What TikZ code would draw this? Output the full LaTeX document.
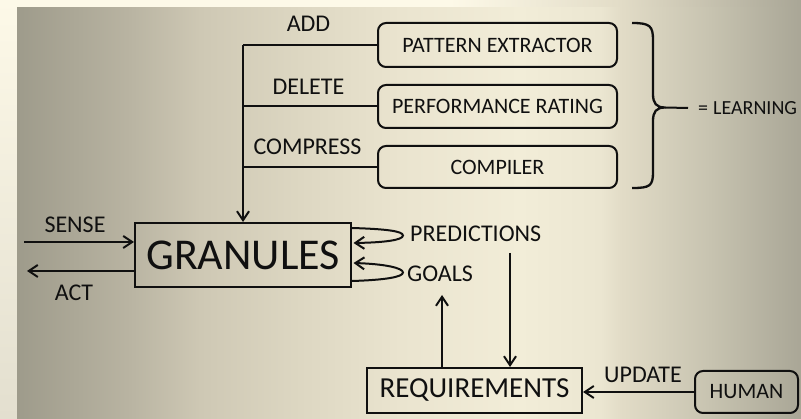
\documentclass[tikz,border=0pt]{standalone}
\usepackage{fontspec}
\setmainfont{Carlito}
\usetikzlibrary{arrows.meta,calc}

\definecolor{ink}{HTML}{101010}
\definecolor{paper}{HTML}{FDF9E8}
\definecolor{paperlow}{HTML}{E3DFCF}
\definecolor{bgA}{HTML}{9E9B8B}
\definecolor{bgB}{HTML}{B9B4A2}
\definecolor{bgC}{HTML}{CEC8B4}
\definecolor{bgD}{HTML}{DDD7C2}
\definecolor{bgE}{HTML}{EAE4CF}
\definecolor{bgF}{HTML}{F2EDD8}
\definecolor{bgG}{HTML}{EBE6D1}
\definecolor{bgH}{HTML}{E2DCC7}
\definecolor{bgI}{HTML}{C7C3B0}
\definecolor{bgJ}{HTML}{A9A696}

\tikzset{
  lbl/.style={font=\fontsize{24}{28}\selectfont, text=ink, inner sep=0pt},
  tag/.style={draw=ink, line width=2pt, rounded corners=8pt, inner sep=0pt,
              font=\fontsize{22}{26}\selectfont, text=ink},
  blk/.style={draw=ink, line width=2pt, inner sep=0pt, text=ink},
  wire/.style={draw=ink, line width=2pt},
  arr/.style={wire, -{Straight Barb[length=9pt,width=12pt]}},
}

\begin{document}
\begin{tikzpicture}[x=1pt,y=-1pt]
\useasboundingbox (0,0) rectangle (801,419);

% page margins
\shade[top color=paper, bottom color=paperlow] (0,0) rectangle (17.5,419);
\foreach \xa/\ca/\xb/\cb in {17/paper/450/paper, 450/paper/620/bgH, 620/bgH/801/bgJ}
  \shade[left color=\ca, right color=\cb] (\xa,0) rectangle (\xb+0.6,8.5);

% panel background
\foreach \xa/\ca/\xb/\cb in {17/bgA/130/bgB, 130/bgB/200/bgC, 200/bgC/300/bgD,
    300/bgD/400/bgE, 400/bgE/520/bgF, 520/bgF/600/bgG, 600/bgG/620/bgH,
    620/bgH/710/bgI, 710/bgI/801/bgJ}
  \shade[left color=\ca, right color=\cb] (\xa,8) rectangle (\xb+0.6,419);

% main blocks
\node[blk, minimum width=216pt, minimum height=64pt,
      font=\fontsize{44}{50}\selectfont] (gran) at (243,255) {GRANULES};
\node[blk, minimum width=215pt, minimum height=45pt,
      font=\fontsize{29}{34}\selectfont] (req) at (474.5,390.5) {REQUIREMENTS};
\node[tag, minimum width=103pt, minimum height=42pt] (human) at (746.5,392) {HUMAN};

% learning components
\node[tag, minimum width=239pt, minimum height=44pt] (pat) at (497.5,45) {PATTERN EXTRACTOR};
\node[tag, minimum width=239pt, minimum height=43pt] (perf) at (497.5,106.5) {PERFORMANCE RATING};
\node[tag, minimum width=239pt, minimum height=42pt] (comp) at (497.5,167) {COMPILER};

% bus into the granules
\coordinate (bus) at (gran.north |- pat.west);
\draw[wire] (pat.west) -- (bus);
\draw[wire] (perf.west) -- (perf.west -| bus);
\draw[wire] (comp.west) -- (comp.west -| bus);
\draw[arr] (bus) -- (gran.north);

\node[lbl, anchor=base] (add) at (308.5,32) {ADD};
\node[lbl, anchor=base] (del) at (308.5,95) {DELETE};
\node[lbl, anchor=base] (cmp) at (307.5,155) {COMPRESS};

% brace
\coordinate (bt) at (632,23);
\coordinate (bb) at (632,188);
\coordinate (tip) at (665,107.5);
\node[anchor=west, font=\fontsize{20}{24}\selectfont, text=ink, inner sep=0pt]
  (learn) at (698,108) {=\hspace{5pt}LEARNING};
\draw[wire, line width=2.3pt, line join=round]
  (bt) .. controls (650,23) and (653,26) .. (653,40) -- (653,94)
  .. controls (653,103) and (656,107.5) .. (tip)
  .. controls (656,107.5) and (653,112) .. (653,121) -- (653,172)
  .. controls (653,186) and (650,188) .. (bb);
\draw[wire] (tip) -- ([xshift=-10pt]learn.west);

% sense / act
\coordinate (sin) at (24,242);
\coordinate (aout) at (27,271);
\draw[arr] (sin) -- (sin -| gran.west);
\draw[arr] (aout -| gran.west) -- (aout);
\node[lbl, anchor=base] (sense) at (75,233) {SENSE};
\node[lbl, anchor=base] (act) at (74,301) {ACT};

% self loops
\draw[arr] ($(gran.east)+(0,-27)$) .. controls (385,229) and (403,231) .. (403,235.5)
  .. controls (403,240) and (385,242.5) .. ($(gran.east)+(1.5,-12)$);
\draw[arr] ($(gran.east)+(0,26)$) .. controls (385,280) and (403,277) .. (403,272.5)
  .. controls (403,268) and (385,264) .. ($(gran.east)+(1.5,8)$);
\node[lbl, anchor=base west] (pred) at (410,242) {PREDICTIONS};
\node[lbl, anchor=base west] (goals) at (407,282) {GOALS};

% requirement feedback
\coordinate (pdown) at (510,253);
\draw[arr] (pdown) -- (pdown |- req.north);
\coordinate (gup) at (442,295);
\draw[arr] (gup |- req.north) -- (gup);

% human update
\draw[arr] (human.west) -- (human.west -| req.east);
\node[lbl, anchor=base] (upd) at (643,383) {UPDATE};
\end{tikzpicture}
\end{document}
